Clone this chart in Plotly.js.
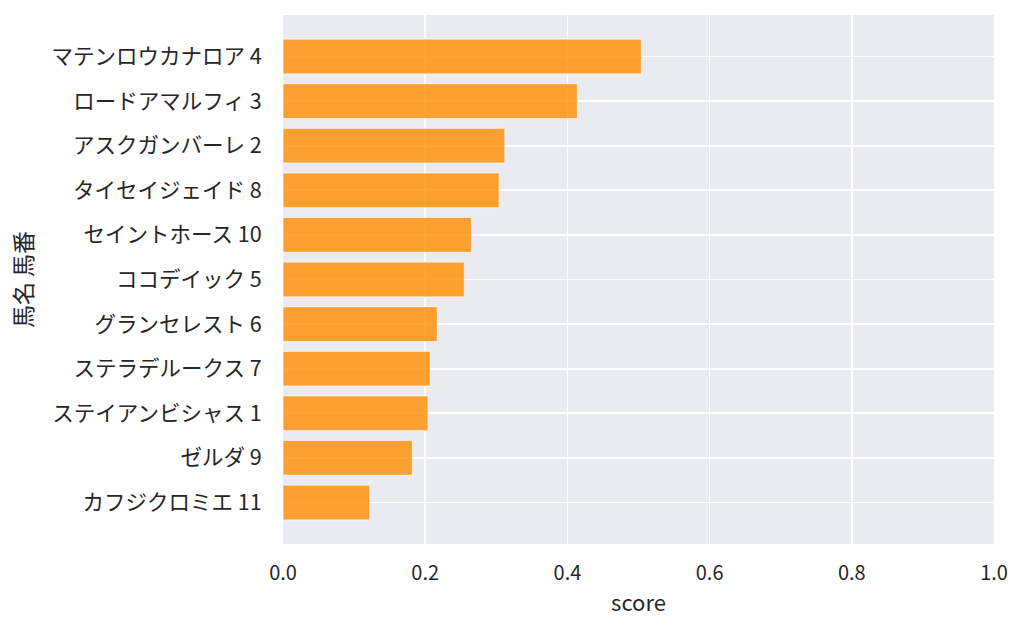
<!DOCTYPE html>
<html>
<head>
<meta charset="utf-8">
<script src="https://cdn.plot.ly/plotly-3.0.1.min.js"></script>
<style>html,body{margin:0;padding:0;background:#fff;}#chart{width:1024px;height:634px;}</style>
</head>
<body>
<div id="chart"></div>
<script>
const horses = ["マテンロウカナロア 4","ロードアマルフィ 3","アスクガンバーレ 2","タイセイジェイド 8","セイントホース 10","ココデイック 5","グランセレスト 6","ステラデルークス 7","ステイアンビシャス 1","ゼルダ 9","カフジクロミエ 11"];
const scores = [0.504, 0.414, 0.312, 0.304, 0.265, 0.255, 0.217, 0.207, 0.204, 0.182, 0.122];
const xTicks = [0, 0.2, 0.4, 0.6, 0.8, 1.0];
const xTickText = ["0.0","0.2","0.4","0.6","0.8","1.0"];

const FONT = "'Noto Sans CJK JP', 'Noto Sans', sans-serif";
const trace = {
  type: 'bar',
  orientation: 'h',
  x: scores,
  y: horses,
  width: 0.78,
  marker: {color: 'rgba(255,140,0,0.8)', line: {color: 'rgba(255,255,255,0.6)', width: 1.2}},
  hoverinfo: 'x+y'
};
const layout = {
  width: 1024, height: 634,
  margin: {l: 283, r: 30, t: 15, b: 90},
  paper_bgcolor: '#ffffff',
  plot_bgcolor: '#eaeaf2',
  font: {family: FONT, color: '#262626', size: 20},
  showlegend: false,
  bargap: 0.2,
  xaxis: {
    range: [0, 1],
    tickvals: xTicks, ticktext: xTickText,
    showgrid: true, gridcolor: '#ffffff', gridwidth: 1.8,
    zeroline: false, showline: false,
    ticks: 'outside', ticklen: 11, tickcolor: 'rgba(0,0,0,0)',
    tickfont: {size: 20, family: FONT, color: '#262626'},
    title: {text: 'score', font: {size: 22, family: FONT, color: '#262626'}, standoff: 10}
  },
  yaxis: {
    type: 'category',
    categoryorder: 'array', categoryarray: horses,
    range: [10.93, -0.93],
    showgrid: true, gridcolor: '#ffffff', gridwidth: 1.8,
    zeroline: false, showline: false,
    ticks: 'outside', ticklen: 16, tickcolor: 'rgba(0,0,0,0)',
    tickfont: {size: 21.5, family: FONT, color: '#262626'},
    title: {text: '馬名 馬番', font: {size: 23, family: FONT, color: '#262626'}, standoff: 12}
  }
};
Plotly.newPlot('chart', [trace], layout, {displayModeBar: false, staticPlot: true});
</script>
</body>
</html>
